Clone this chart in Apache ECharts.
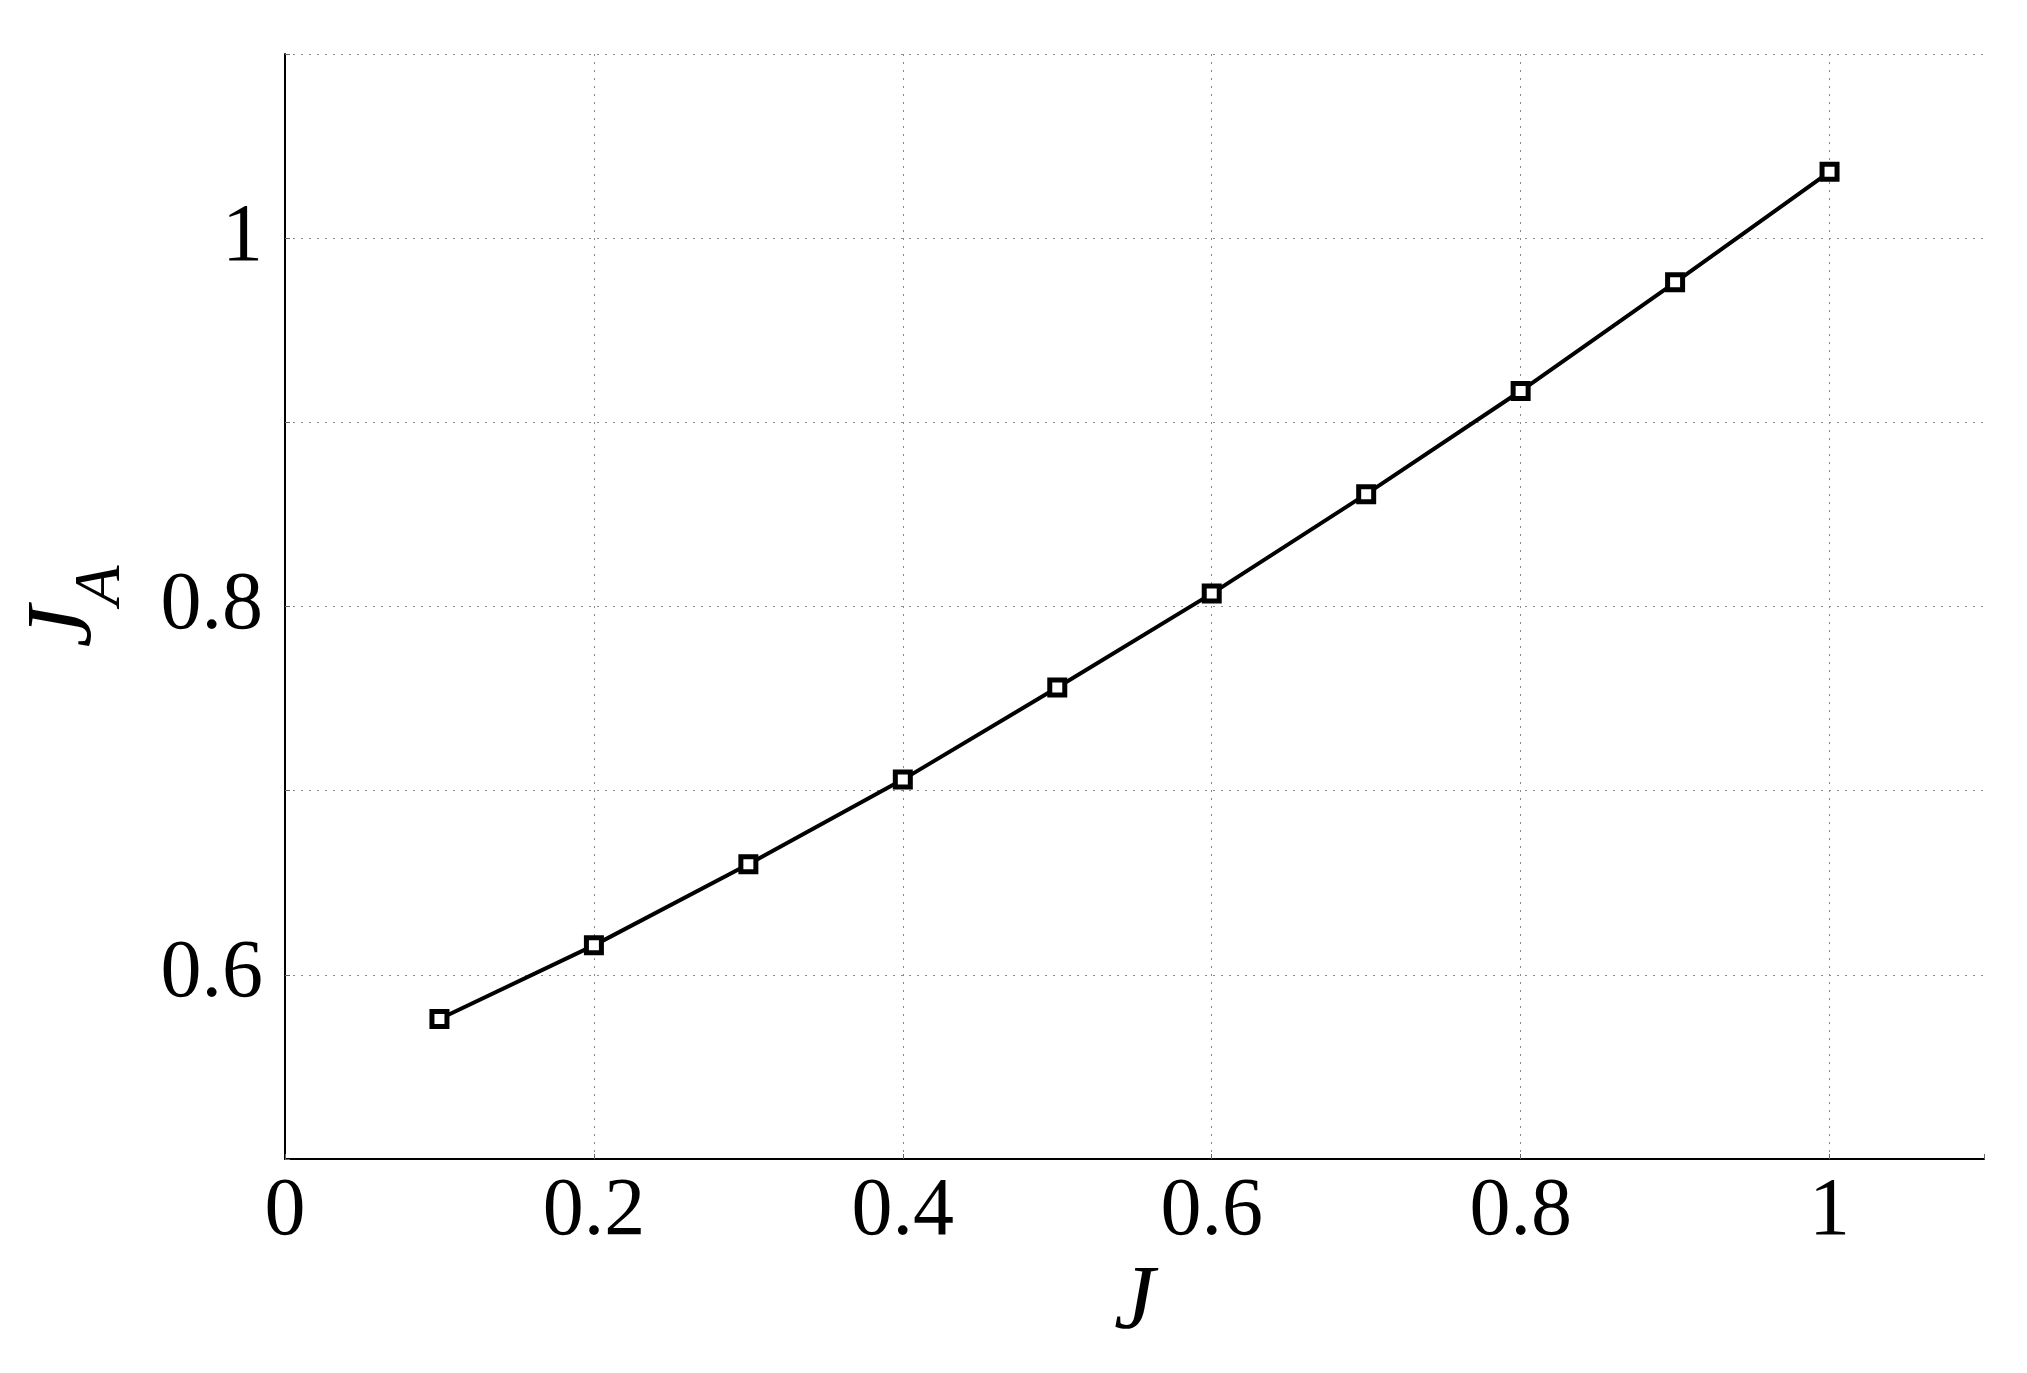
<!DOCTYPE html>
<html>
<head>
<meta charset="utf-8">
<script src="https://cdn.jsdelivr.net/npm/echarts@6/dist/echarts.min.js"></script>
<style>
html,body{margin:0;padding:0;background:#fff;}
#chart{width:2027px;height:1373px;}
</style>
</head>
<body>
<div id="chart"></div>
<script>
const xValues = [0.1, 0.2, 0.3, 0.4, 0.5, 0.6, 0.7, 0.8, 0.9, 1.0];
const jaValues = [0.576, 0.616, 0.660, 0.706, 0.756, 0.807, 0.861, 0.917, 0.976, 1.036];
const xTickLabels = ['0', '0.2', '0.4', '0.6', '0.8', '1'];
const yTickLabels = ['0.6', '0.8', '1'];
const xName = 'J';
const yName = 'J';
const ySub = 'A';

const FONT = '"Liberation Serif", "Times New Roman", serif';
const chart = echarts.init(document.getElementById('chart'), null, {renderer: 'canvas'});

const xLabelMap = {};
xTickLabels.forEach(s => { xLabelMap[Math.round(parseFloat(s) * 10)] = s; });
const yLabelMap = {};
yTickLabels.forEach(s => { yLabelMap[Math.round(parseFloat(s) * 10)] = s; });

const gridColor = '#8a8a8a';

chart.setOption({
  animation: false,
  backgroundColor: '#fff',
  grid: {left: 285, right: 43, top: 54, bottom: 214, containLabel: false},
  xAxis: {
    type: 'value',
    min: 0, max: 1.1, interval: 0.2,
    name: xName,
    nameLocation: 'middle',
    nameGap: 95,
    nameTextStyle: {fontFamily: FONT, fontStyle: 'italic', fontSize: 92, color: '#000'},
    axisLine: {show: true, onZero: false, lineStyle: {color: '#000', width: 2}},
    axisTick: {show: true, inside: true, length: 5, lineStyle: {color: '#666', width: 1}},
    axisLabel: {
      margin: 12,
      fontFamily: FONT, fontSize: 82, color: '#000',
      formatter: v => { const k = Math.round(v * 10); return xLabelMap[k] !== undefined && Math.abs(v * 10 - k) < 1e-6 ? xLabelMap[k] : ''; }
    },
    splitLine: {show: true, lineStyle: {color: [gridColor, gridColor, gridColor, gridColor, gridColor, gridColor, 'rgba(0,0,0,0)'], type: [2, 6], width: 1}}
  },
  yAxis: {
    type: 'value',
    min: 0.5, max: 1.1, interval: 0.1,
    name: '{j|' + yName + '}{a|' + ySub + '}',
    nameLocation: 'middle',
    nameRotate: 90,
    nameGap: 150,
    nameTextStyle: {
      color: '#000',
      fontFamily: FONT,
      fontStyle: 'italic',
      rich: {
        j: {fontFamily: FONT, fontStyle: 'italic', fontSize: 94, color: '#000'},
        a: {fontFamily: FONT, fontStyle: 'oblique', fontSize: 66, color: '#000', padding: [74, 0, 0, 0]}
      }
    },
    axisLine: {show: true, onZero: false, lineStyle: {color: '#000', width: 2}},
    axisTick: {show: true, inside: true, length: 5, lineStyle: {color: '#666', width: 1}},
    axisLabel: {
      margin: 22,
      fontFamily: FONT, fontSize: 82, color: '#000',
      formatter: v => { const k = Math.round(v * 10); return yLabelMap[k] !== undefined ? yLabelMap[k] : ''; }
    },
    splitLine: {show: true, lineStyle: {color: gridColor, type: [2, 6], width: 1}}
  },
  series: [{
    type: 'line',
    data: xValues.map((x, i) => [x, jaValues[i]]),
    symbol: 'rect',
    symbolSize: 15,
    lineStyle: {color: '#000', width: 4},
    itemStyle: {color: '#fff', borderColor: '#000', borderWidth: 5},
    z: 5
  }]
});
</script>
</body>
</html>
